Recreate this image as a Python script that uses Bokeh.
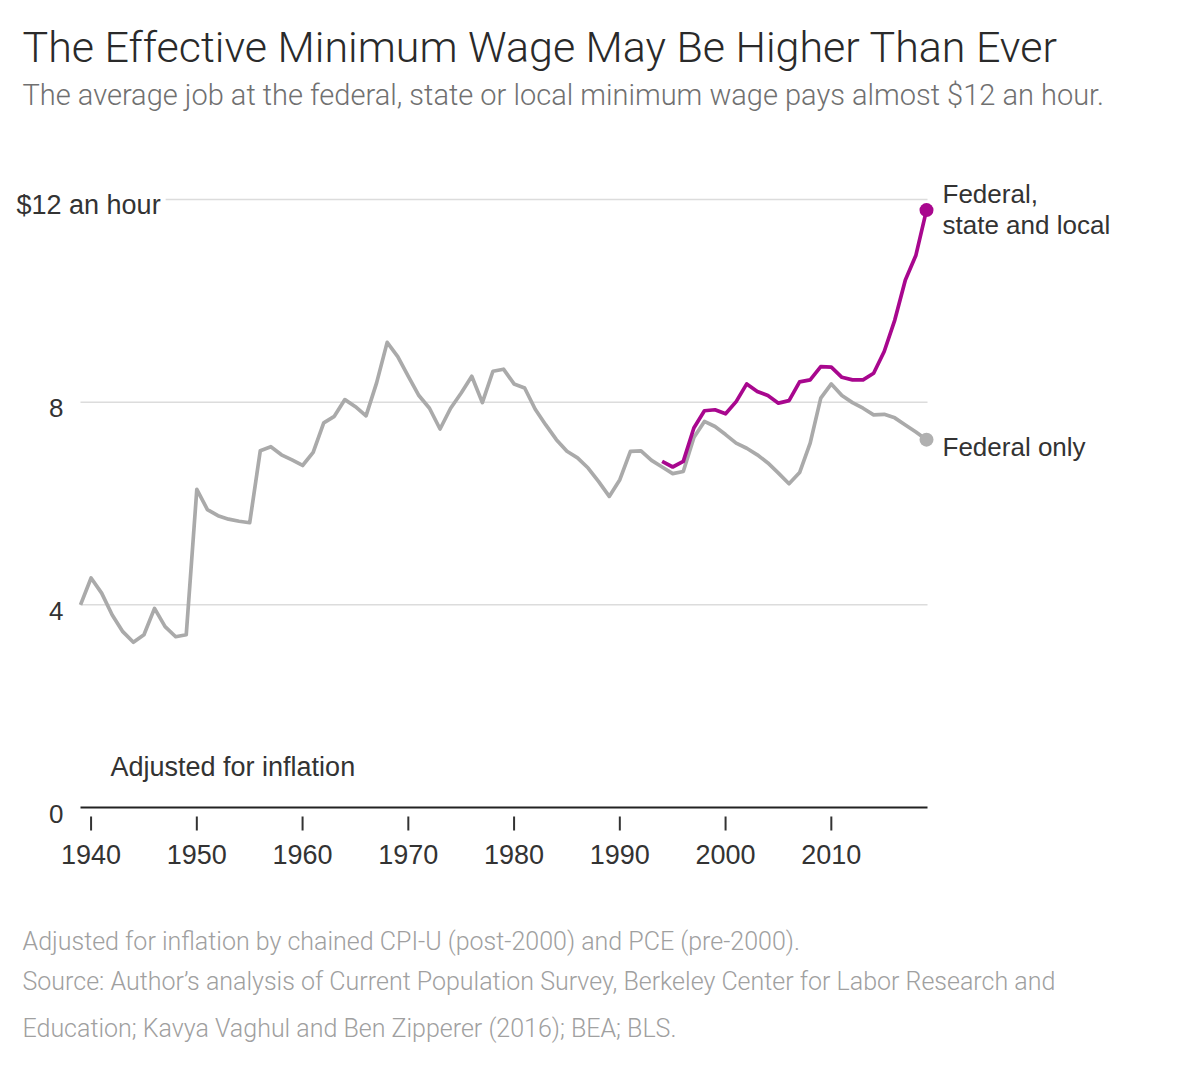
from bokeh.plotting import figure
from bokeh.models import Label, Range1d
from bokeh.embed import file_html
from bokeh.resources import INLINE

# ---------------- data ----------------
years_federal = list(range(1939, 2020))
federal_only = [
    4.00, 4.53, 4.23, 3.80, 3.47, 3.26, 3.41, 3.93, 3.57, 3.37, 3.41,   # 1939-1949
    6.28, 5.88, 5.76, 5.69, 5.65, 5.62, 7.04, 7.12, 6.96, 6.86,         # 1950-1959
    6.75, 7.01, 7.59, 7.72, 8.05, 7.91, 7.73, 8.38, 9.18, 8.90,         # 1960-1969
    8.51, 8.13, 7.88, 7.47, 7.88, 8.18, 8.51, 7.99, 8.61, 8.65,         # 1970-1979
    8.36, 8.28, 7.86, 7.55, 7.26, 7.03, 6.90, 6.70, 6.43, 6.14,         # 1980-1989
    6.47, 7.03, 7.04, 6.85, 6.72, 6.59, 6.63, 7.30, 7.62, 7.52,         # 1990-1999
    7.36, 7.19, 7.09, 6.96, 6.80, 6.60, 6.39, 6.61, 7.19, 8.08,         # 2000-2009
    8.36, 8.13, 7.99, 7.88, 7.75, 7.76, 7.69, 7.55, 7.41, 7.26,         # 2010-2019
]
years_all = list(range(1994, 2020))
federal_state_local = [
    6.83, 6.72, 6.83, 7.49, 7.83, 7.85,                                 # 1994-1999
    7.77, 8.01, 8.36, 8.21, 8.13, 7.98, 8.03, 8.40, 8.44, 8.70,         # 2000-2009
    8.69, 8.49, 8.44, 8.44, 8.57, 9.00, 9.62, 10.41, 10.90, 11.79,      # 2010-2019
]
x_ticks = [1940, 1950, 1960, 1970, 1980, 1990, 2000, 2010]
x_tick_labels = ["1940", "1950", "1960", "1970", "1980", "1990", "2000", "2010"]
y_grid_values = [4, 8, 12]
y_tick_values = [12, 8, 4, 0]
y_tick_labels = ["$12 an hour", "8", "4", "0"]

title_text = "The Effective Minimum Wage May Be Higher Than Ever"
subtitle_text = "The average job at the federal, state or local minimum wage pays almost $12 an hour."
note_lines = [
    "Adjusted for inflation by chained CPI-U (post-2000) and PCE (pre-2000).",
    "Source: Author\u2019s analysis of Current Population Survey, Berkeley Center for Labor Research and",
    "Education; Kavya Vaghul and Ben Zipperer (2016); BEA; BLS.",
]

# ---------------- layout (pixel geometry of the chart area) ----------------
W, H = 1200, 1071
PLOT_LEFT_PX, PLOT_RIGHT_PX = 80.0, 926.0      # x of 1939 and 2019
AXIS_PX = 807.0                                 # y of value 0
PX_PER_UNIT = 50.67
YEAR_START, YEAR_END = 1939, 2019
PX_PER_YEAR = (PLOT_RIGHT_PX - PLOT_LEFT_PX) / (YEAR_END - YEAR_START)
BASE_SHIFT = 0.38   # renderer places text ~0.38em lower than the nominal baseline


def dx(px):
    return YEAR_START + (px - PLOT_LEFT_PX) / PX_PER_YEAR


def dy(py):
    return (AXIS_PX - py) / PX_PER_UNIT


def ph(px):  # pixel length -> data units (vertical)
    return px / PX_PER_UNIT


FONT = "Liberation Sans"
LIGHT_FONT = "Roboto Light"
GRAY = "#aaaaaa"
MAGENTA = "#a8078e"
DARK = "#333333"

p = figure(
    width=W, height=H,
    x_range=Range1d(dx(0), dx(W)), y_range=Range1d(dy(H), dy(0)),
    output_backend="svg", toolbar_location=None,
    x_axis_location=None, y_axis_location=None,
    min_border=0,
)
p.outline_line_color = None
p.background_fill_color = "white"
p.border_fill_color = "white"
p.xgrid.visible = False
p.ygrid.visible = False

# horizontal gridlines
n = len(y_grid_values)
p.segment(x0=[dx(PLOT_LEFT_PX)] * n, x1=[dx(927)] * n, y0=y_grid_values, y1=y_grid_values,
          line_color="#dcdcdc", line_width=1.5, level="underlay")

# x axis: baseline, ticks, labels
p.segment(x0=[dx(PLOT_LEFT_PX)], x1=[dx(927)], y0=[0], y1=[0], line_color="#222222", line_width=2)
m = len(x_ticks)
p.segment(x0=x_ticks, x1=x_ticks, y0=[-ph(9)] * m, y1=[-ph(23)] * m,
          line_color=DARK, line_width=2)
TICK_SIZE = 27
p.text(x=x_ticks, y=[-ph(57 - BASE_SHIFT * TICK_SIZE)] * m, text=x_tick_labels,
       text_font={"value": FONT}, text_font_size=f"{TICK_SIZE}px", text_color=DARK,
       text_align="center", text_baseline="alphabetic")

# lines
p.line(years_federal, federal_only, line_color=GRAY, line_width=3.7, line_join="round")
p.line(years_all, federal_state_local, line_color=MAGENTA, line_width=3.7, line_join="round")
p.scatter([years_federal[-1]], [federal_only[-1]], size=14, fill_color="#b0b0b0", line_color=None)
p.scatter([years_all[-1]], [federal_state_local[-1]], size=14, fill_color=MAGENTA, line_color=None)


def add_label(text, px, base_py, size, color=DARK, align="left", font=FONT, **kw):
    py = base_py - BASE_SHIFT * size
    p.add_layout(Label(
        x=dx(px), y=dy(py), text=text,
        text_font=font, text_font_size=f"{size}px", text_color=color,
        text_align=align, text_baseline="alphabetic", **kw))


# title / subtitle
add_label(title_text, 22, 63, 43, color="#2a2a2a", font=LIGHT_FONT)
add_label(subtitle_text, 22, 106, 29, color="#707070", font=LIGHT_FONT)

# y tick labels
for v, t in zip(y_tick_values, y_tick_labels):
    base = AXIS_PX - v * PX_PER_UNIT + 16
    if t.startswith("$"):
        add_label(t, 11, base, 27, background_fill_color="white", padding=5)
    else:
        add_label(t, 63, base, 26, align="right")

# series labels
add_label("Federal,", 942, 203, 26)
add_label("state and local", 942, 234, 26)
add_label("Federal only", 942, 456, 26)
add_label("Adjusted for inflation", 110, 777, 27)

# notes
for line, base in zip(note_lines, [950, 990, 1037]):
    add_label(line, 22, base, 25, color="#a0a0a0", font=LIGHT_FONT)

open("out.html", "w").write(file_html(p, INLINE))
